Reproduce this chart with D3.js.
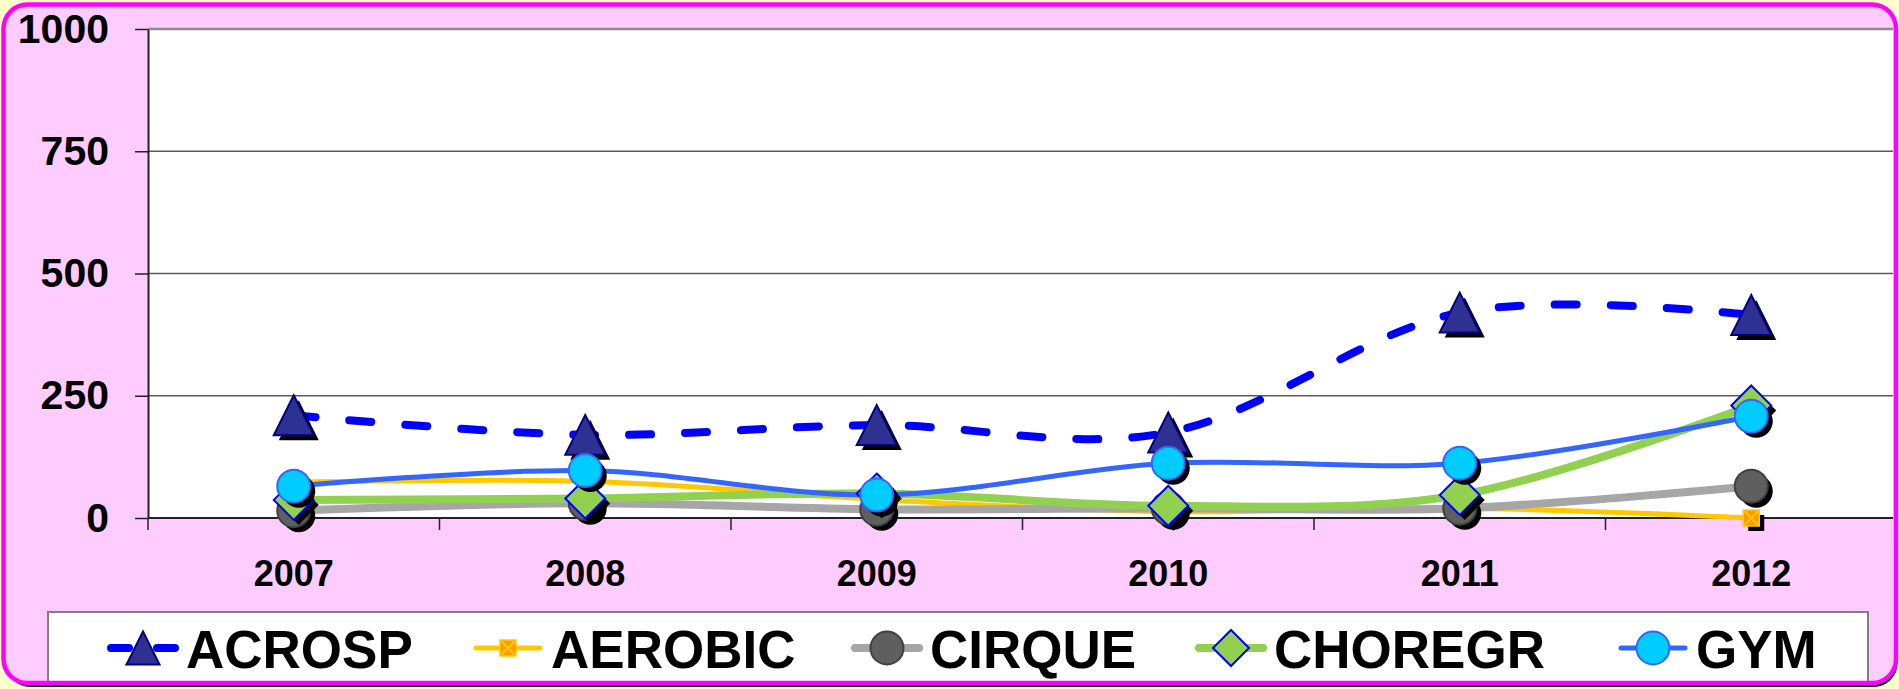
<!DOCTYPE html>
<html lang="fr">
<head>
<meta charset="UTF-8">
<title>ACROSP / AEROBIC / CIRQUE / CHOREGR / GYM</title>
<style>
    body { margin: 0; background: #FFFFCC; }
    svg { display: block; }
    text { font-family: Arial, "Liberation Sans", sans-serif; font-weight: bold; fill: #000; }
</style>
</head>
<body>
<script src="https://cdn.jsdelivr.net/npm/d3@7/dist/d3.min.js"></script>
<script>
    // données
    var years = ["2007", "2008", "2009", "2010", "2011", "2012"];
    var acrosp = [210, 170, 190, 175, 420, 415];
    var aerobic = [73, 75, 38, 13, 20, 0];
    var cirque = [15, 30, 18, 20, 20, 65];
    var choregr = [37, 40, 50, 25, 47, 230];
    var gym = [65, 97, 47, 112, 112, 208];
    var yTicks = [0, 250, 500, 750, 1000];
    var names = ["ACROSP", "AEROBIC", "CIRQUE", "CHOREGR", "GYM"];

    var width = 1899, height = 689;
    var plotLeft = 148, plotTop = 29, plotBottom = 518, plotRight = 1893;
    var bandW = 291.5;

    var series = [
        {name: names[0], values: acrosp, stroke: "#0000FF", sw: 8, dash: "22 34", marker: "triangle", fill: "#2E3092", mstroke: "#000080"},
        {name: names[1], values: aerobic, stroke: "#FFC800", sw: 5, dash: null, marker: "square", fill: "#FF9900", mstroke: "#FFCC00"},
        {name: names[2], values: cirque, stroke: "#A6A6A6", sw: 8, dash: null, marker: "circle", fill: "#5F5F5F", mstroke: "#404040"},
        {name: names[3], values: choregr, stroke: "#92D050", sw: 8, dash: null, marker: "diamond", fill: "#92D050", mstroke: "#0000FF"},
        {name: names[4], values: gym, stroke: "#3366FF", sw: 5, dash: null, marker: "circle", fill: "#00CCFF", mstroke: "#3366FF"}
    ];

    var svg = d3.select("body").append("svg")
        .attr("width", width)
        .attr("height", height);

    var x = d3.scaleBand().domain(years).range([plotLeft, plotLeft + bandW * years.length]);
    var y = d3.scaleLinear().domain([0, 1000]).range([plotBottom, plotTop]);

    /* cadre */
    svg.append("rect")
        .attr("x", 6.5).attr("y", 8).attr("width", 1891).attr("height", 679)
        .attr("rx", 24).attr("fill", "#000");
    svg.append("rect")
        .attr("x", 3.5).attr("y", 4.5).attr("width", 1892.5).attr("height", 678.5)
        .attr("rx", 24).attr("fill", "#FFCCFF");

    /* zone de tracé */
    svg.append("rect")
        .attr("x", plotLeft).attr("y", plotTop)
        .attr("width", plotRight - plotLeft).attr("height", plotBottom - plotTop)
        .attr("fill", "#fff");

    svg.selectAll(".grid")
        .data(yTicks.filter(function (d) { return d > 0; }))
        .enter()
        .append("line")
        .attr("x1", plotLeft).attr("x2", plotRight)
        .attr("y1", function (d) { return y(d); })
        .attr("y2", function (d) { return y(d); })
        .attr("stroke", function (d) { return d == 1000 ? "#8C8C8C" : "#5A5A5A"; })
        .attr("stroke-width", function (d) { return d == 1000 ? 2.5 : 1.5; });

    /* axe Y */
    var yAxis = svg.append("g")
        .attr("transform", "translate(" + plotLeft + ",0)")
        .call(d3.axisLeft(y).tickValues(yTicks).tickFormat(d3.format("d"))
            .tickSize(13).tickSizeOuter(0).tickPadding(26));
    yAxis.select(".domain").attr("stroke", "#222").attr("stroke-width", 2);
    yAxis.selectAll(".tick line").attr("stroke", "#222").attr("stroke-width", 1.5);
    yAxis.selectAll(".tick text")
        .attr("font-size", "41px")
        .attr("font-family", "Arial, 'Liberation Sans', sans-serif")
        .attr("font-weight", "bold")
        .attr("fill", "#000");

    /* axe X */
    var xAxis = svg.append("g")
        .attr("transform", "translate(0," + plotBottom + ")")
        .call(d3.axisBottom(x).tickSize(0).tickPadding(42));
    xAxis.select(".domain").remove();
    xAxis.selectAll(".tick text")
        .attr("font-size", "36px")
        .attr("font-family", "Arial, 'Liberation Sans', sans-serif")
        .attr("font-weight", "bold")
        .attr("fill", "#000");
    xAxis.selectAll(".sep")
        .data(years)
        .enter()
        .append("line")
        .attr("x1", function (d) { return x(d); })
        .attr("x2", function (d) { return x(d); })
        .attr("y1", 0).attr("y2", 12)
        .attr("stroke", "#222").attr("stroke-width", 1.5);
    svg.append("line")
        .attr("x1", plotLeft).attr("x2", plotRight)
        .attr("y1", plotBottom).attr("y2", plotBottom)
        .attr("stroke", "#222").attr("stroke-width", 2);

    /* marqueurs */
    function markerPath(type, s) {
        var h = s / 2;
        if (type == "triangle") return "M0," + (-h) + "L" + h + "," + h + "L" + (-h) + "," + h + "Z";
        if (type == "diamond") return "M0," + (-h) + "L" + h + ",0L0," + h + "L" + (-h) + ",0Z";
        if (type == "square") return "M" + (-h) + "," + (-h) + "H" + h + "V" + h + "H" + (-h) + "Z";
        return d3.arc()({innerRadius: 0, outerRadius: h, startAngle: 0, endAngle: 2 * Math.PI});
    }
    function markerSize(type, legend) {
        if (type == "triangle") return legend ? 33 : 40;
        if (type == "diamond") return legend ? 36 : 40;
        if (type == "square") return 16;
        return 33;
    }
    function drawMarker(g, s, cx, cy, legend) {
        var size = markerSize(s.marker, legend);
        var p = markerPath(s.marker, size);
        if (!legend) {
            g.append("path").attr("d", p)
                .attr("transform", "translate(" + (cx + 5) + "," + (cy + 5) + ")")
                .attr("fill", "#000");
        }
        g.append("path").attr("d", p)
            .attr("transform", "translate(" + cx + "," + cy + ")")
            .attr("fill", s.fill)
            .attr("stroke", s.mstroke)
            .attr("stroke-width", s.marker == "square" ? 1.5 : 2);
        if (s.marker == "square") {
            var h = size / 2 - 1.5;
            g.append("path")
                .attr("d", "M" + (-h) + "," + (-h) + "L" + h + "," + h + "M" + h + "," + (-h) + "L" + (-h) + "," + h)
                .attr("transform", "translate(" + cx + "," + cy + ")")
                .attr("stroke", "#FFCC00").attr("stroke-width", 2).attr("fill", "none");
        }
    }

    /* courbes lissées */
    var line = d3.line()
        .x(function (d, i) { return x(years[i]) + x.bandwidth() / 2; })
        .y(function (d) { return y(d); })
        .curve(d3.curveCardinal.tension(0));

    var plotG = svg.append("g");
    series.forEach(function (s) {
        plotG.append("path")
            .attr("d", line(s.values))
            .attr("fill", "none")
            .attr("stroke", s.stroke)
            .attr("stroke-width", s.sw)
            .attr("stroke-linecap", "round")
            .attr("stroke-linejoin", "round")
            .attr("stroke-dasharray", s.dash);
    });
    series.forEach(function (s) {
        s.values.forEach(function (v, i) {
            drawMarker(plotG, s, x(years[i]) + x.bandwidth() / 2, y(v), false);
        });
    });

    /* légende */
    svg.append("rect")
        .attr("x", 48).attr("y", 612).attr("width", 1820).attr("height", 72)
        .attr("fill", "#fff").attr("stroke", "#808080").attr("stroke-width", 2);

    var legendX = [107, 472, 851, 1195, 1617];
    var legendY = 648;
    series.forEach(function (s, i) {
        var g = svg.append("g");
        var x0 = legendX[i];
        g.append("line")
            .attr("x1", x0 + 4).attr("x2", x0 + 68)
            .attr("y1", legendY).attr("y2", legendY)
            .attr("stroke", s.stroke)
            .attr("stroke-width", s.sw)
            .attr("stroke-linecap", "round")
            .attr("stroke-dasharray", s.dash ? "18 28" : null);
        drawMarker(g, s, x0 + 36, legendY, true);
        g.append("text")
            .attr("x", x0 + 79)
            .attr("y", 668)
            .attr("font-size", "53px")
            .text(s.name);
    });

    /* bordure */
    svg.append("rect")
        .attr("x", 3.5).attr("y", 4.5).attr("width", 1892.5).attr("height", 678.5)
        .attr("rx", 24).attr("fill", "none")
        .attr("stroke", "#FF00FF").attr("stroke-width", 4.5);
</script>
</body>
</html>
